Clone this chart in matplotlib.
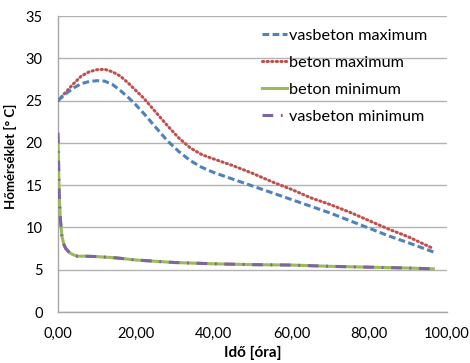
import numpy as np
import matplotlib
matplotlib.use('Agg')
import matplotlib.pyplot as plt

plt.rcParams['font.family'] = ['Lato', 'DejaVu Sans']

# data
t_max = [0, 2, 4, 6, 8, 10, 12, 14, 16, 18, 20, 22, 25, 28, 31, 34, 37, 40,
         45, 50, 55, 60, 65, 70, 75, 80, 85, 90, 96.5]
vasbeton_max = [25.0, 25.8, 26.5, 27.0, 27.25, 27.35, 27.3, 26.9, 26.2, 25.4,
                24.5, 23.5, 21.9, 20.3, 19.0, 17.9, 17.1, 16.5,
                15.7, 14.9, 14.1, 13.3, 12.5, 11.7, 10.8, 9.9, 9.0, 8.2, 7.1]
beton_max = [25.0, 26.0, 27.0, 27.9, 28.4, 28.65, 28.7, 28.4, 27.9, 27.1,
             26.2, 25.3, 23.7, 22.1, 20.6, 19.4, 18.6, 18.1,
             17.3, 16.4, 15.4, 14.5, 13.5, 12.7, 11.8, 10.8, 9.8, 8.9, 7.5]

t_min = [0, 0.3, 0.6, 1, 1.5, 2, 3, 4, 5, 7, 10, 15, 20, 25, 30, 40,
         50, 60, 70, 80, 90, 96.5]
beton_min = [20.6, 14.0, 11.0, 9.0, 8.0, 7.5, 7.0, 6.75, 6.6, 6.6, 6.55, 6.4,
             6.15, 6.0, 5.85, 5.7, 5.6, 5.55, 5.4, 5.3, 5.2, 5.1]
vasbeton_min = [21.2, 14.1, 11.0, 9.0, 8.0, 7.5, 7.0, 6.75, 6.6, 6.6, 6.55, 6.4,
                6.15, 6.0, 5.85, 5.7, 5.6, 5.55, 5.4, 5.3, 5.2, 5.1]

x_ticks = [0, 20, 40, 60, 80, 100]
y_ticks = [0, 5, 10, 15, 20, 25, 30, 35]

########################################################################
fig = plt.figure(figsize=(4.7, 3.63), dpi=100, facecolor='w')
ax = fig.add_axes([58/470., 1-312/363., 389/470., 296/363.])

lw = 2.2
ax.plot(t_max, vasbeton_max, color='#4F81BD', lw=lw, ls=(0, (2.2, 1.1)),
        label='vasbeton maximum', zorder=4)
ax.plot(t_max, beton_max, color='#C0504D', lw=lw, ls=(0, (0.4, 1.1)),
        dash_capstyle='round', label='beton maximum', zorder=3)
ax.plot(t_min, beton_min, color='#9BBB59', lw=lw, ls='-',
        label='beton minimum', zorder=3)
ax.plot(t_min, vasbeton_min, color='#8064A2', lw=lw, ls=(0, (3.5, 2.5, 0.6, 2.5)),
        label='vasbeton minimum', zorder=4)

ax.set_xlim(0, 100)
ax.set_ylim(0, 35)
ax.set_xticks(x_ticks)
ax.set_xticklabels(['%d,00' % v for v in x_ticks])
ax.set_yticks(y_ticks)
ax.tick_params(length=0, labelsize=10.5, pad=11, colors='black')

ax.grid(axis='y', color='#B3B3B3', lw=1)
ax.set_axisbelow(True)
for s in ['top', 'right']:
    ax.spines[s].set_visible(False)
for s in ['left', 'bottom']:
    ax.spines[s].set_color('#A6A6A6')
    ax.spines[s].set_linewidth(1)

ax.set_xlabel('Idő [óra]', fontsize=11, fontweight='bold', labelpad=3)
ax.set_ylabel('Hőmérséklet [° C]', fontsize=9.5, fontweight='bold')
ax.yaxis.set_label_coords(-0.105, 0.527)

leg = ax.legend(loc='upper left', bbox_to_anchor=(0.525, 0.958), frameon=False,
                fontsize=11.7, handlelength=1.5, handletextpad=0.15,
                labelspacing=0.78, borderpad=0, borderaxespad=0)

fig.savefig('out.png', dpi=100, facecolor='w')
